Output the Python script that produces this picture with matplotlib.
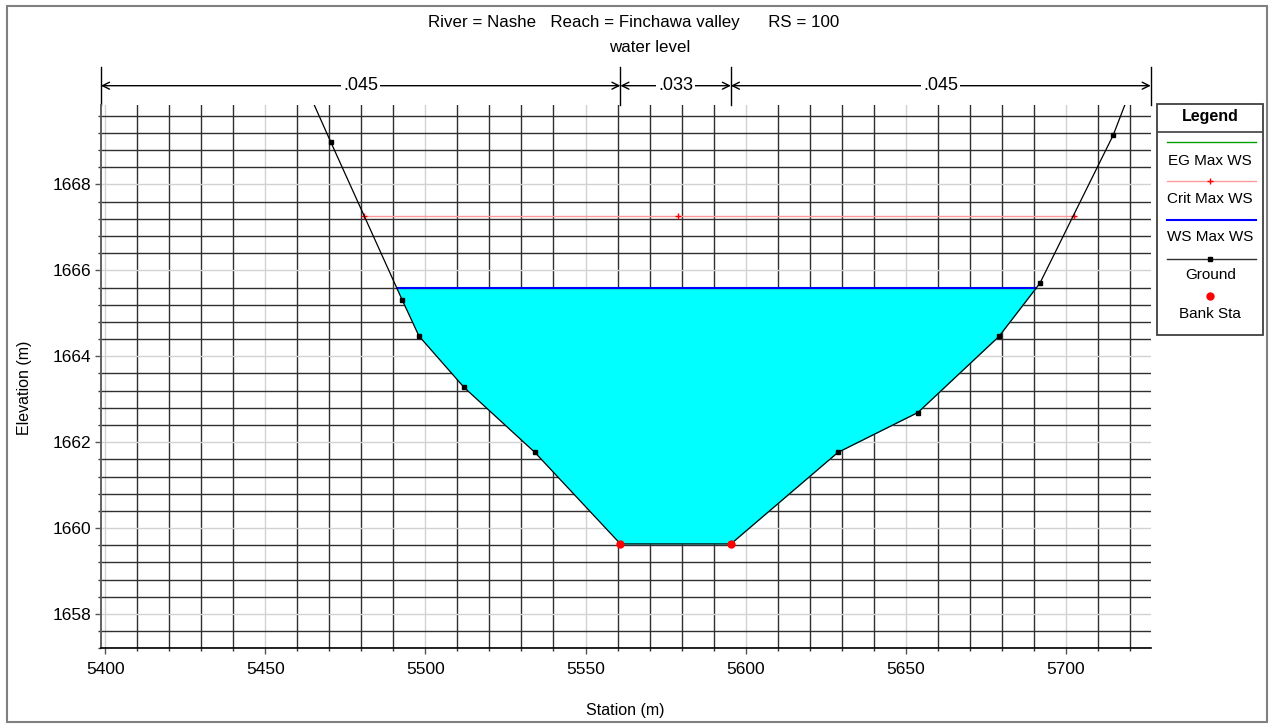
import numpy as np
import matplotlib
matplotlib.use("Agg")
import matplotlib.pyplot as plt
from matplotlib.transforms import blended_transform_factory
from matplotlib.patches import Rectangle

# ---- cross-section data -------------------------------------------------
ground_sta = [5462.0, 5470.5, 5492.7, 5498.0, 5512.0, 5534.2, 5560.9,
              5595.4, 5628.8, 5653.8, 5679.1, 5691.9, 5714.8, 5721.0]
ground_elev = [1670.40, 1668.98, 1665.32, 1664.47, 1663.28, 1661.76, 1659.63,
               1659.63, 1661.76, 1662.69, 1664.46, 1665.70, 1669.15, 1670.35]
bank_sta = [5560.9, 5595.4]
bank_elev = [1659.63, 1659.63]
ws_max = 1665.58
eg_max = 1665.58
crit_sta = [5480.8, 5578.8, 5702.4]
crit_elev = 1667.27

# Manning's n regions (edges in station)
n_edges = [5398.7, 5560.9, 5595.4, 5726.5]
n_values = [".045", ".033", ".045"]

x_ticks = [5400, 5450, 5500, 5550, 5600, 5650, 5700]
y_ticks = [1658, 1660, 1662, 1664, 1666, 1668]
x_limits = (5398.7, 5726.5)
y_limits = (1657.2, 1669.85)

title = "River = Nashe   Reach = Finchawa valley      RS = 100"
subtitle = "water level"

legend_labels = ["EG Max WS", "Crit Max WS", "WS Max WS", "Ground", "Bank Sta"]

plt.rcParams["font.family"] = ["Liberation Sans", "DejaVu Sans"]

W, H = 1271, 725
fig = plt.figure(figsize=(W / 100, H / 100), dpi=100)
fig.patch.set_facecolor("white")


def fx(px):
    return px / W


def fy(py):
    return 1 - py / H


ax = fig.add_axes([fx(101), fy(648.3), fx(1150.7) - fx(101), fy(105) - fy(648.3)])
ax.set_xlim(*x_limits)
ax.set_ylim(*y_limits)

ax.set_xticks(x_ticks)
ax.set_yticks(y_ticks)
ax.set_xticks(np.arange(5400, 5730, 10), minor=True)
ax.set_yticks(np.arange(1657.2, 1669.9, 0.4), minor=True)
ax.tick_params(which="major", length=4.5, width=1.0, color="#555555",
               labelsize=12.5, direction="out")
ax.tick_params(axis="x", which="major", pad=5.5)
ax.tick_params(axis="y", which="major", pad=2.4)
ax.tick_params(which="minor", length=2.5, width=1.0, color="#333333", direction="out")

ax.grid(which="major", color="#d2d2d2", lw=1.0)
ax.grid(which="minor", color="#303030", lw=1.0)
ax.set_axisbelow(True)

for s in ("top", "right"):
    ax.spines[s].set_visible(False)
ax.spines["left"].set_color("#606060")
ax.spines["left"].set_linewidth(1.4)
ax.spines["bottom"].set_color("black")
ax.spines["bottom"].set_linewidth(1.2)

gs = np.array(ground_sta)
ge = np.array(ground_elev)

# water body below the max water surface
ax.fill_between(gs, ge, ws_max, where=ge < ws_max, interpolate=True,
                color="#00ffff", lw=0, zorder=2)


def crossings(level):
    pts = []
    for i in range(len(gs) - 1):
        a, b = ge[i] - level, ge[i + 1] - level
        if a * b < 0:
            t = a / (a - b)
            pts.append(gs[i] + t * (gs[i + 1] - gs[i]))
    return pts


ws_x = crossings(ws_max)
ax.plot([ws_x[0], ws_x[-1]], [eg_max, eg_max], color="#00a000", lw=1.0, zorder=3)
ax.plot([ws_x[0], ws_x[-1]], [ws_max, ws_max], color="#0000ff", lw=1.5, zorder=4)

ax.plot(crit_sta, [crit_elev] * len(crit_sta), color="#ff9a9a", lw=1.0, zorder=3)
ax.plot(crit_sta, [crit_elev] * len(crit_sta), ls="none", marker="+",
        color="red", ms=4, mew=1.0, zorder=4)

ax.plot(gs, ge, color="black", lw=0.9, marker="s", ms=3.2, zorder=5)
ax.plot(bank_sta, bank_elev, ls="none", marker="o", color="red", ms=5, zorder=6)

# ---- Manning's n bands above the plot -----------------------------------
tr = blended_transform_factory(ax.transData, fig.transFigure)
for xe in n_edges:
    ax.plot([xe, xe], [fy(66.7), fy(105)], color="black", lw=1.0,
            transform=tr, clip_on=False)
for i, val in enumerate(n_values):
    x0, x1 = n_edges[i], n_edges[i + 1]
    ax.annotate("", xy=(x0, fy(85.7)), xytext=(x1, fy(85.7)),
                xycoords=tr, textcoords=tr,
                arrowprops=dict(arrowstyle="<->,head_length=0.5,head_width=0.25",
                                color="black", lw=1.0, shrinkA=0, shrinkB=0,
                                mutation_scale=10))
    ax.text((x0 + x1) / 2, fy(85.7), val, transform=tr, ha="center", va="center",
            fontsize=13, bbox=dict(boxstyle="square,pad=0.1", fc="white", ec="none"))

# ---- titles and axis labels ---------------------------------------------
fig.text(fx(634), fy(22), title, ha="center", va="center", fontsize=12.2)
fig.text(fx(650), fy(48), subtitle, ha="center", va="center", fontsize=12.2)
fig.text(fx(625.7), fy(710), "Station (m)", ha="center", va="center", fontsize=11.5)
fig.text(fx(25), fy(388), "Elevation (m)", ha="center", va="center",
         rotation=90, fontsize=11.5)

# ---- legend box ----------------------------------------------------------
lw_, lh_ = 106, 231
lax = fig.add_axes([fx(1157.3), fy(335), lw_ / W, lh_ / H])
lax.set_xlim(0, lw_)
lax.set_ylim(lh_, 0)
lax.axis("off")
lax.add_patch(Rectangle((0, 0), lw_, lh_, fill=False, ec="#404040", lw=1.3, clip_on=False))
lax.plot([0, lw_], [27.7, 27.7], color="#404040", lw=1.2)
lax.text(lw_ / 2, 13, "Legend", ha="center", va="center", fontsize=11.5, fontweight="bold")

sym_y = [38.3, 76.7, 116, 155, 192]
txt_y = [56.7, 95.3, 132.7, 171, 210]
lx0, lx1 = 9.4, 98.7
lax.plot([lx0, lx1], [sym_y[0]] * 2, color="#00a000", lw=1.0)
lax.plot([lx0, lx1], [sym_y[1]] * 2, color="#ff9a9a", lw=1.0)
lax.plot([lw_ / 2], [sym_y[1]], marker="+", color="red", ms=4, mew=1.0)
lax.plot([lx0, lx1], [sym_y[2]] * 2, color="#0000ff", lw=1.5)
lax.plot([lx0, lx1], [sym_y[3]] * 2, color="#303030", lw=1.0)
lax.plot([lw_ / 2], [sym_y[3]], marker="s", color="black", ms=3.2)
lax.plot([lw_ / 2], [sym_y[4]], marker="o", color="red", ms=5)
for ty, lab in zip(txt_y, legend_labels):
    lax.text(lw_ / 2, ty, lab, ha="center", va="center", fontsize=11)

# ---- outer frame ---------------------------------------------------------
fig.add_artist(Rectangle((fx(7), fy(722)), fx(1267) - fx(7), fy(6) - fy(722),
                         transform=fig.transFigure, fill=False, ec="#808080", lw=1.5))

fig.savefig("out.png", dpi=100)
